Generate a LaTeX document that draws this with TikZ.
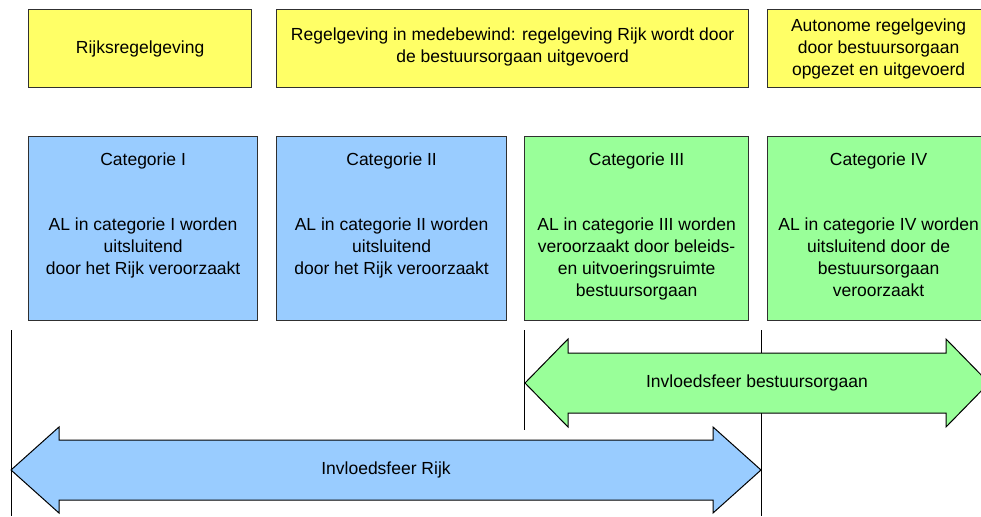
\documentclass[tikz,border=0pt]{standalone}
\usepackage{fontspec}
\setmainfont{Liberation Sans}
\usetikzlibrary{positioning}

\definecolor{geel}{HTML}{FFFF66}
\definecolor{blauw}{HTML}{99CCFF}
\definecolor{groen}{HTML}{99FF99}
\definecolor{rand}{HTML}{303030}

\begin{document}
\begin{tikzpicture}[x=1pt,y=-1pt,
    font=\fontsize{17.5}{22}\selectfont,
    kader/.style={draw=rand, line width=1.2pt, anchor=north west, inner sep=0pt},
    regel/.style={kader, fill=geel, minimum height=78pt, align=center},
    categorie/.style={kader, minimum width=#1, minimum height=184pt},
    tekst/.style={align=center, inner sep=0pt},
    pijl/.style={draw=black, line width=1pt, line join=miter}]
    \useasboundingbox (0,0) rectangle (981,516);
    \clip (0,0) rectangle (981,516);

    % bovenste rij: soorten regelgeving
    \node[regel, minimum width=223pt] (rijk) at (28,9) {Rijksregelgeving};
    \node[regel, minimum width=472pt] (mede) at (276,9) {};
    \node[tekst] (medet) at ([yshift=2pt]mede.center)
        {Regelgeving in medebewind: regelgeving Rijk wordt door\\de bestuursorgaan uitgevoerd};
    \node[regel, minimum width=222pt] (auto) at (767,9)
        {Autonome regelgeving\\door bestuursorgaan\\opgezet en uitgevoerd};

    % categorieen
    \node[categorie=229pt, fill=blauw] (cat1) at (28,136) {};
    \node[categorie=230pt, fill=blauw] (cat2) at (276,136) {};
    \node[categorie=224pt, fill=groen] (cat3) at (524,136) {};
    \node[categorie=222pt, fill=groen] (cat4) at (767,136) {};

    \node[tekst] (cat1t) at ([yshift=-25pt]cat1.north) {Categorie I};
    \node[tekst] (cat2t) at ([yshift=-25pt]cat2.north) {Categorie II};
    \node[tekst] (cat3t) at ([yshift=-25pt]cat3.north) {Categorie III};
    \node[tekst] (cat4t) at ([yshift=-25pt]cat4.north) {Categorie IV};

    \node[tekst, anchor=north] (cat1b) at ([yshift=-82pt]cat1.north)
        {AL in categorie I worden\\uitsluitend\\door het Rijk veroorzaakt};
    \node[tekst, anchor=north] (cat2b) at ([yshift=-82pt]cat2.north)
        {AL in categorie II worden\\uitsluitend\\door het Rijk veroorzaakt};
    \node[tekst, anchor=north] (cat3b) at ([yshift=-82pt]cat3.north)
        {AL in categorie III worden\\veroorzaakt door beleids-\\en uitvoeringsruimte\\bestuursorgaan};
    \node[tekst, anchor=north] (cat4b) at ([yshift=-82pt]cat4.north)
        {AL in categorie IV worden\\uitsluitend door de\\bestuursorgaan\\veroorzaakt};

    % grenslijnen
    \foreach \x/\y in {11/516, 524/430, 761/516} {
        \draw[line width=1pt] (\x,330) -- (\x,\y);
    }

    % invloedsferen
    \draw[pijl, fill=groen] (525,383) -- (568,339) -- (568,353) -- (946,353) -- (946,339)
        -- (989,383) -- (946,427) -- (946,413) -- (568,413) -- (568,427) -- cycle;
    \node[tekst] (bestuur) at (757,383) {Invloedsfeer bestuursorgaan};

    \draw[pijl, fill=blauw] (11,470) -- (59,427) -- (59,440) -- (713,440) -- (713,427)
        -- (761,470) -- (713,513) -- (713,500) -- (59,500) -- (59,513) -- cycle;
    \node[tekst] (rijksfeer) at (386,470) {Invloedsfeer Rijk};
\end{tikzpicture}
\end{document}
